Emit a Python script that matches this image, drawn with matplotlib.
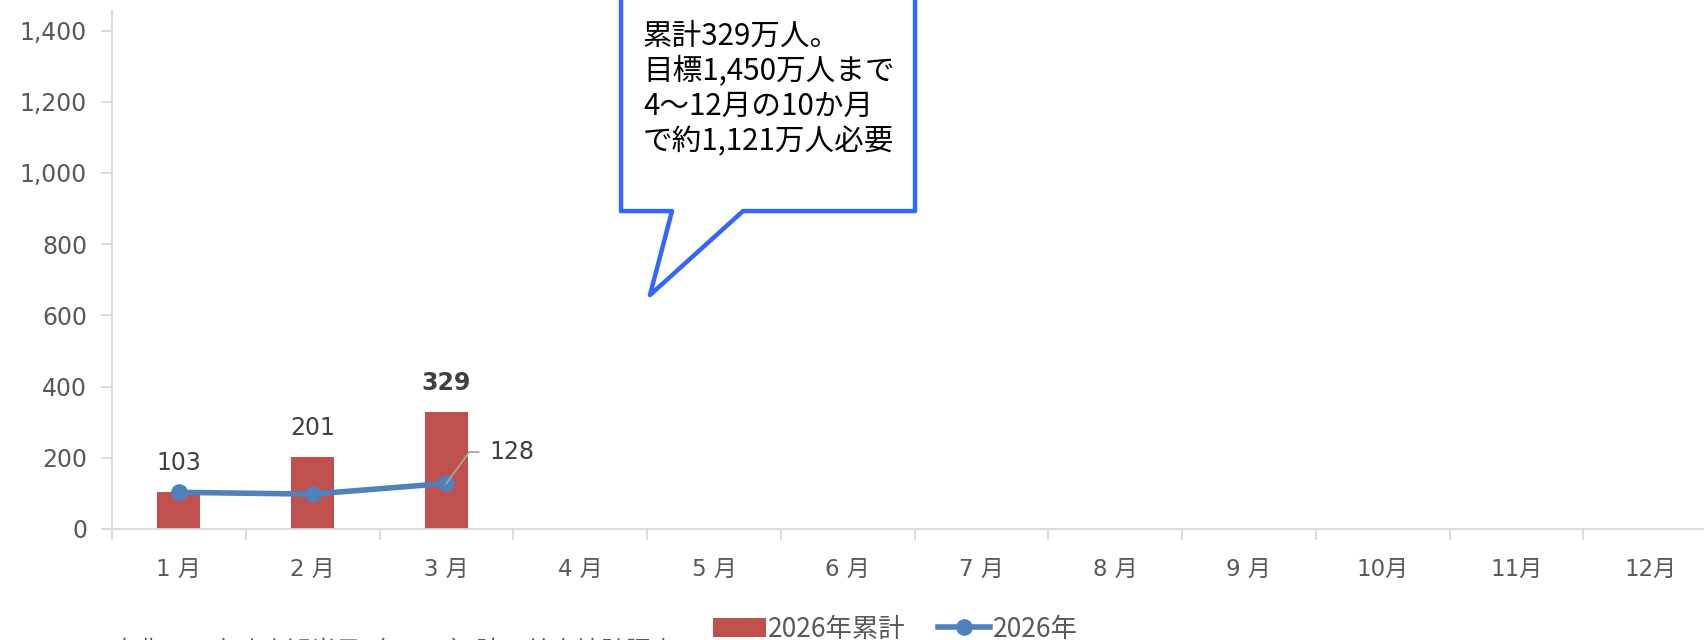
import matplotlib
matplotlib.use("Agg")
import matplotlib.pyplot as plt
from matplotlib.patches import Polygon
import numpy as np

plt.rcParams['font.family'] = ['DejaVu Sans', 'Noto Sans CJK JP']

# データ
months = ['1月', '2月', '3月', '4月', '5月', '6月', '7月', '8月', '9月', '10月', '11月', '12月']
tick_labels = ['1 月', '2 月', '3 月', '4 月', '5 月', '6 月', '7 月', '8 月', '9 月', '10月', '11月', '12月']
cumulative = [103, 201, 329]       # 2026年累計
monthly = [103, 98, 128]           # 2026年
callout_text = '累計329万人。\n目標1,450万人まで\n4〜12月の10か月\nで約1,121万人必要'
source_text = '出典：日本政府観光局（JNTO）訪日外客統計調査'

bar_color = '#C0504D'
line_color = '#4F81BD'
grey_txt = '#595959'
axis_grey = '#D9D9D9'

fig = plt.figure(figsize=(17.04, 6.4), dpi=100)
ax = fig.add_axes([112 / 1704, 1 - 529 / 640, (1717 - 112) / 1704, (529 - 11) / 640])

x = np.arange(len(months))
xb = x[:len(cumulative)]
ax.bar(xb, cumulative, width=0.32, color=bar_color, label='2026年累計', zorder=2)
ax.plot(xb, monthly, color=line_color, lw=4, marker='o', markersize=11,
        label='2026年', zorder=3)

ax.set_xlim(-0.5, len(months) - 0.5)
ax.set_ylim(0, 1455)
ax.set_yticks(range(0, 1401, 200))
ax.set_yticklabels([f'{v:,}' for v in range(0, 1401, 200)])
ax.set_xticks(x)
ax.set_xticklabels(tick_labels)
ax.set_xticks(np.arange(-0.5, len(months), 1), minor=True)
ax.tick_params(axis='x', which='major', length=0, pad=21, labelsize=16.5, labelcolor=grey_txt)
ax.tick_params(axis='x', which='minor', length=8, color=axis_grey, width=1.3)
ax.tick_params(axis='y', length=8, color=axis_grey, width=1.3, labelsize=17,
               labelcolor=grey_txt, pad=10)
for s in ['top', 'right']:
    ax.spines[s].set_visible(False)
for s in ['left', 'bottom']:
    ax.spines[s].set_color(axis_grey)
    ax.spines[s].set_linewidth(1.3)

# 累計ラベル
for i, v in enumerate(cumulative):
    last = i == len(cumulative) - 1
    ax.annotate(f'{v}', (xb[i], v), xytext=(0, 21), textcoords='offset points',
                ha='center', va='center', fontsize=17, color='#404040',
                fontweight='bold' if last else 'normal')

# 3月の月間ラベル(引出線付き)
ax.plot([xb[2], 2.17, 2.24], [monthly[2], 216, 216], color='#A6A6A6', lw=1.3, zorder=4)
ax.text(2.32, 216, f'{monthly[2]}', ha='left', va='center', fontsize=17, color='#404040')

# 吹き出し
callout = Polygon([(3.306, 1600), (3.306, 893), (3.687, 893), (3.522, 657),
                   (4.218, 893), (5.504, 893), (5.504, 1600)],
                  closed=True, facecolor='white', edgecolor='#3366FF', lw=3.2,
                  joinstyle='round', clip_on=False, zorder=5)
ax.add_patch(callout)
ax.text(3.47, 1428, callout_text, ha='left', va='top', fontsize=21.3,
        family=['Noto Sans CJK JP'], color='black', linespacing=1.17, zorder=6)

handles, labels = ax.get_legend_handles_labels()
order = [labels.index('2026年累計'), labels.index('2026年')]
fig.legend([handles[i] for i in order], [labels[i] for i in order],
           loc='center', bbox_to_anchor=(0.5255, 0.017), ncol=2, frameon=False,
           prop={'family': ['Noto Sans CJK JP'], 'size': 19}, labelcolor=grey_txt,
           handlelength=2.0, handletextpad=0.1, columnspacing=1.2)

fig.text(0.065, -0.04, source_text, fontsize=18, color=grey_txt,
         family=['Noto Sans CJK JP'], va='bottom')

fig.savefig('out.png', dpi=100)
